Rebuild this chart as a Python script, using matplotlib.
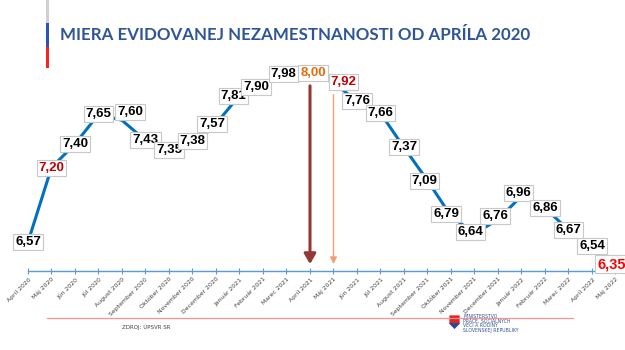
import matplotlib
matplotlib.use("Agg")
import matplotlib.pyplot as plt
from matplotlib.patches import Rectangle, Polygon

months = ["Apríl 2020", "Máj 2020", "Jún 2020", "Júl 2020", "August 2020", "September 2020",
          "Október 2020", "November 2020", "December 2020", "Január 2021", "Február 2021",
          "Marec 2021", "Apríl 2021", "Máj 2021", "Jún 2021", "Júl 2021", "August 2021",
          "September 2021", "Október 2021", "November 2021", "December 2021", "Január 2022",
          "Február 2022", "Marec 2022", "Apríl 2022", "Máj 2022"]
rate = [6.57, 7.20, 7.40, 7.65, 7.60, 7.43, 7.35, 7.38, 7.57, 7.81, 7.90, 7.98, 8.00,
        7.92, 7.76, 7.66, 7.37, 7.09, 6.79, 6.64, 6.76, 6.96, 6.86, 6.67, 6.54, 6.35]

# label colours / nudges (pixels) for a few points
special = {1: "#C00000", 12: "#E46C0A", 13: "#C00000", 25: "#FF0000"}
nudge = {4: (8, 8), 7: (0, 5), 8: (-4, 0), 9: (-6, -1), 10: (-7, -2), 11: (-3, 1),
         12: (3, 0), 13: (10, 0), 17: (-3, 0), 18: (-5, 2), 19: (-4, 2), 20: (-3, 4),
         21: (-3, 3), 25: (-4, 4)}

blue = "#0070C0"
fig = plt.figure(figsize=(6.25, 3.5), dpi=100)
ax = fig.add_axes([0, (350 - 271) / 350, 1, (271 - 60) / 350])
x = list(range(len(rate)))
ax.plot(x, rate, color=blue, lw=2.2, solid_capstyle="butt", zorder=2)
ax.set_xlim(-28 / 23.5, 597 / 23.5)
ax.set_ylim(6.325, 8.11)

for s in ["top", "right", "left"]:
    ax.spines[s].set_visible(False)
ax.spines["bottom"].set_color("#5B9BD5")
ax.spines["bottom"].set_linewidth(1.0)
ax.spines["bottom"].set_bounds(0, 25)
ax.set_yticks([])
ax.set_xticks(x)
ax.set_xticklabels(months, rotation=45, ha="right", rotation_mode="anchor",
                   fontsize=4.4, color="#404040")
ax.tick_params(axis="x", direction="inout", length=4, width=0.8, color="#5B9BD5", pad=2)

for i, v in enumerate(rate):
    dx, dy = nudge.get(i, (0, 0))
    col = special.get(i, "black")
    fs = 10.5 if i == 25 else 9.5
    ax.annotate(f"{v:.2f}".replace(".", ","), (i, v), xytext=(dx * 0.72, dy * 0.72),
                textcoords="offset points", ha="center", va="center", fontsize=fs,
                fontweight="bold", color=col, family="Liberation Sans", zorder=5,
                bbox=dict(boxstyle="square,pad=0.15", fc="white", ec="#C8C8C8", lw=0.8))

# arrows at April and May 2021
ax.annotate("", xy=(12, 6.36), xytext=(12, 7.915),
            arrowprops=dict(arrowstyle="-|>,head_width=0.35,head_length=0.6",
                            color="#953735", lw=2.2), zorder=3)
ax.annotate("", xy=(13, 6.36), xytext=(13, 7.84),
            arrowprops=dict(arrowstyle="-|>,head_width=0.2,head_length=0.4",
                            color="#F0A070", lw=1.0), zorder=3)

# title and side bar
fig.text(60 / 625, 1 - 35.5 / 350, "MIERA EVIDOVANEJ NEZAMESTNANOSTI OD APRÍLA 2020",
         fontsize=12.2, fontweight="bold", color="#2F5597", family="Lato",
         ha="left", va="center")
fig.add_artist(Rectangle((46 / 625, 1 - 23 / 350), 2.5 / 625, 23 / 350,
                         transform=fig.transFigure, color="#D0D0D0", lw=0))
fig.add_artist(Rectangle((46 / 625, 1 - 47 / 350), 2.5 / 625, 24 / 350,
                         transform=fig.transFigure, color="#2B54B8", lw=0))
fig.add_artist(Rectangle((46 / 625, 1 - 68 / 350), 2.5 / 625, 21 / 350,
                         transform=fig.transFigure, color="#FF2020", lw=0))

# footer
fig.add_artist(plt.Line2D([47 / 625, 573 / 625], [1 - 318 / 350] * 2,
                          transform=fig.transFigure, color="#FF9090", lw=0.9))
fig.text(122 / 625, 1 - 327 / 350, "ZDROJ: ÚPSVR SR", fontsize=4, color="#404040",
         ha="left", va="center")
fig.add_artist(Polygon([(449 / 625, 1 - 315 / 350), (460 / 625, 1 - 315 / 350),
                        (460 / 625, 1 - 324 / 350), (454.5 / 625, 1 - 329 / 350),
                        (449 / 625, 1 - 324 / 350)], closed=True,
                       transform=fig.transFigure, fc="#E52420", ec="white", lw=0.5))
fig.add_artist(Polygon([(449 / 625, 1 - 323 / 350), (460 / 625, 1 - 323 / 350),
                        (454.5 / 625, 1 - 329 / 350)], closed=True,
                       transform=fig.transFigure, fc="#1F4EA0", lw=0))
fig.text(463 / 625, 1 - 316 / 350, "MINISTERSTVO", fontsize=3.3, color="#2F5597",
         ha="left", va="center")
fig.text(463 / 625, 1 - 325.5 / 350, "PRÁCE, SOCIÁLNYCH\nVECÍ A RODINY\nSLOVENSKEJ REPUBLIKY",
         fontsize=3.3, color="#2F5597", ha="left", va="center", linespacing=0.95)

fig.savefig("out.png", dpi=100)
